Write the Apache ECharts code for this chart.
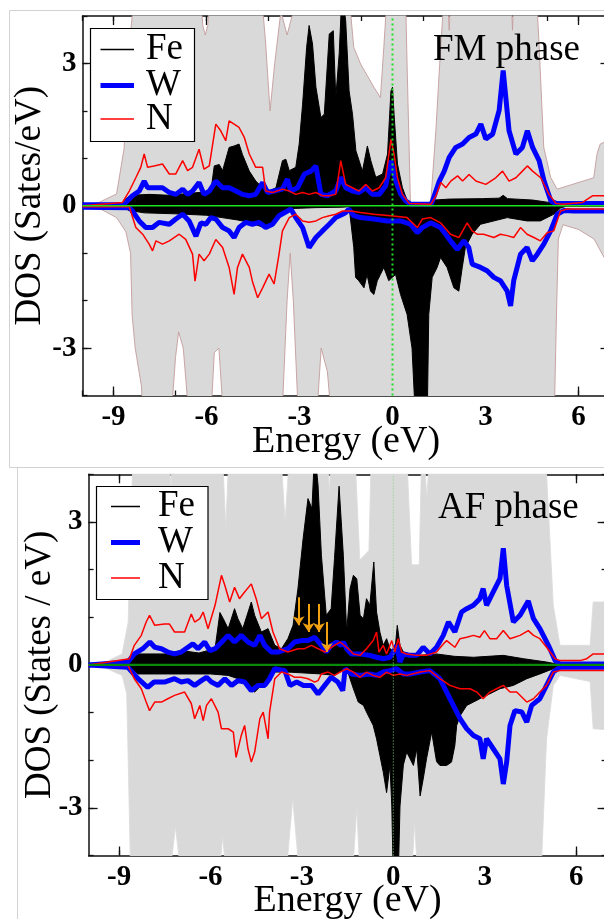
<!DOCTYPE html>
<html>
<head>
<meta charset="utf-8">
<script src="https://cdn.jsdelivr.net/npm/echarts@6/dist/echarts.min.js"></script>
<style>
  html, body { margin: 0; padding: 0; background: #fff; }
  #chart { width: 604px; height: 919px; }
</style>
</head>
<body>
<div id="chart"></div>
<script>
// Spin-resolved partial DOS of Fe, W and N in the FM and AF phases.
const SERIF = '"Liberation Serif", "Times New Roman", serif';

const energyMin = -10, energyMax = 7;
const dosMin = -4, dosMax = 4;
const xTickLabels = [-9, -6, -3, 0, 3, 6];
const fmMinorTicks = [-10, -9, -8, -7, -6, -5, -4, -3, -2, -1, 0, 1, 2, 3, 4, 5, 6, 7];
const afMinorTicks = [-9, -7.5, -6, -4.5, -3, -1.5, 0, 1.5, 3, 4.5, 6];
const yTickLabels = [-3, 0, 3];
const yMinorTicks = [-4, -3, -2, -1, 0, 1, 2, 3, 4];

// ---------- FM phase ----------
const fmTotUp = [[-10,0.01],[-9.5,0.06],[-8.9,0.25],[-8.66,1.2],[-8.5,3.3],[-8.25,5],[-6.25,5],[-6.12,3.8],[-6.04,3.6],[-5.96,3.8],[-5.85,5],
  [-4.3,5],[-4.1,3.5],[-3.95,2.0],[-3.8,3.0],[-3.6,4.1],[-3.4,3.6],[-3.2,4.1],[-3.0,5],[-1.55,5],[-1.41,4.5],[-1.25,3.34],[-1.03,2.99],
  [-0.6,2.5],[-0.39,2.28],[-0.28,3.34],[-0.17,4.5],[-0.1,5],[0.4,5],[0.47,3.0],[0.58,0.03],[1.23,0.03],[1.4,1.6],[1.55,3.3],[1.72,5],
  [1.76,5],[1.83,3.7],[1.92,5],[3.8,5],[3.87,3.7],[3.95,5],[4.6,5],[4.72,3.5],[4.88,1.23],[5.1,0.6],[5.31,0.35],[6.49,0.59],[6.6,1.1],[6.7,1.3],[7,1.4]];
const fmTotDn = [[-10,-0.01],[-9.5,-0.04],[-8.9,-0.25],[-8.6,-0.55],[-8.45,-1.0],[-8.4,-2.3],[-8.3,-3.0],[-8.1,-3.8],[-8.0,-5],[-7.2,-5],[-7.0,-3.2],
  [-6.9,-2.66],[-6.75,-3.0],[-6.5,-5],[-5.9,-5],[-5.75,-3.1],[-5.6,-3.0],[-5.4,-5],[-3.6,-5],[-3.4,-2.0],[-3.3,-1.0],[-3.2,-2.0],[-3.0,-5],
  [-2.5,-5],[-2.3,-3.0],[-2.1,-3.5],[-1.9,-5],[5.2,-5],[5.3,-2],[5.35,-0.7],[5.5,-0.4],[6.0,-0.5],[6.5,-0.7],[7,-1.3]];
const fmFeUp = [[-10,0],[-8.71,0.02],[-8.6,0.15],[-8.44,0.22],[-7.85,0.24],[-7.2,0.22],[-6.77,0.25],[-6.24,0.28],[-5.86,0.3],[-5.75,0.84],
  [-5.59,0.87],[-5.48,0.74],[-5.27,1.23],[-5.11,1.26],[-4.95,1.3],[-4.84,1.08],[-4.62,0.73],[-4.41,0.52],[-4.19,0.38],[-3.98,0.31],[-3.76,0.38],
  [-3.55,0.95],[-3.44,0.98],[-3.33,0.74],[-3.12,0.81],[-3.01,1.3],[-2.9,2.14],[-2.77,3.34],[-2.69,3.8],[-2.58,3.41],[-2.47,2.5],[-2.31,1.86],
  [-2.2,1.93],[-2.04,3.62],[-1.91,3.69],[-1.83,2.28],[-1.72,3.2],[-1.63,4.5],[-1.51,3.9],[-1.4,2.42],[-1.29,1.93],[-1.18,1.16],[-0.97,0.73],
  [-0.81,1.26],[-0.7,0.95],[-0.54,0.6],[-0.32,0.67],[-0.16,1.09],[-0.05,2.42],[0,2.5],[0.05,1.93],[0.16,0.88],[0.32,0.38],[0.48,0.1],[0.59,0],
  [1.24,0],[1.34,0.12],[1.83,0.14],[2.9,0.15],[3.44,0.16],[3.57,0.22],[3.71,0.15],[4.52,0.12],[5.05,0.07],[5.32,0.02],[7,0.02]];
const fmFeDn = [[-10,0],[-8.7,-0.03],[-8.5,-0.1],[-8.0,-0.15],[-7.0,-0.17],[-6.0,-0.2],[-5.5,-0.25],[-5.0,-0.3],[-4.6,-0.35],[-4.2,-0.45],
  [-3.9,-0.35],[-3.6,-0.15],[-3.3,-0.06],[-2.5,-0.04],[-1.6,-0.03],[-1.4,-0.02],[-1.35,0],[-1.25,-0.88],[-1.19,-1.51],[-1.09,-1.58],[-0.92,-1.73],
  [-0.82,-1.45],[-0.71,-1.8],[-0.6,-1.87],[-0.49,-1.58],[-0.39,-1.45],[-0.28,-1.3],[-0.12,-1.58],[-0.01,-1.51],[0.1,-1.45],[0.26,-1.87],
  [0.47,-2.29],[0.63,-3.0],[0.74,-4.5],[1.12,-4.5],[1.17,-2.29],[1.28,-1.51],[1.44,-1.3],[1.55,-1.09],[1.76,-1.3],[1.98,-1.73],[2.14,-1.8],
  [2.25,-1.3],[2.35,-0.88],[2.57,-0.6],[2.84,-0.39],[3.7,-0.25],[4.34,-0.32],[4.77,-0.32],[5.2,-0.18],[5.42,-0.05],[5.6,-0.01],[7,-0.01]];
const fmWUp = [[-10,0.02],[-8.9,0.02],[-8.66,0.03],[-8.39,0.21],[-8.17,0.31],[-8.01,0.52],[-7.9,0.38],[-7.74,0.38],[-7.42,0.38],[-7.2,0.28],
  [-6.99,0.24],[-6.77,0.35],[-6.61,0.24],[-6.45,0.31],[-6.24,0.49],[-6.08,0.24],[-5.91,0.31],[-5.7,0.52],[-5.48,0.38],[-5.27,0.38],[-5.05,0.31],
  [-4.84,0.24],[-4.62,0.21],[-4.41,0.24],[-4.19,0.49],[-4.03,0.28],[-3.82,0.31],[-3.55,0.35],[-3.39,0.56],[-3.28,0.31],[-3.06,0.38],[-2.84,0.67],
  [-2.63,0.73],[-2.47,0.84],[-2.31,0.24],[-2.1,0.21],[-1.83,0.31],[-1.67,0.6],[-1.51,0.38],[-1.29,0.31],[-1.08,0.28],[-0.86,0.38],[-0.65,0.24],
  [-0.43,0.24],[-0.22,0.42],[-0.05,0.95],[0,0.98],[0.11,0.52],[0.27,0.24],[0.43,0.1],[0.59,0.03],[1.24,0.03],[1.29,0.1],[1.51,0.52],[1.67,0.73],
  [1.83,1.02],[2.04,1.23],[2.26,1.3],[2.47,1.44],[2.69,1.51],[2.85,1.72],[3.01,1.41],[3.23,1.51],[3.44,2.01],[3.57,2.85],[3.66,2.25],[3.76,1.58],
  [3.98,1.09],[4.19,1.23],[4.35,1.58],[4.52,1.23],[4.73,0.95],[4.89,0.52],[5.11,0.1],[5.27,0.05],[7,0.05]];
const fmWDn = [[-10,-0.03],[-8.49,-0.04],[-8.39,-0.11],[-8.17,-0.32],[-7.96,-0.46],[-7.74,-0.46],[-7.53,-0.35],[-7.2,-0.39],[-6.99,-0.28],
  [-6.77,-0.18],[-6.56,-0.32],[-6.34,-0.64],[-6.18,-0.36],[-6.02,-0.39],[-5.86,-0.25],[-5.7,-0.28],[-5.48,-0.46],[-5.27,-0.53],[-5.11,-0.67],
  [-4.95,-0.46],[-4.73,-0.35],[-4.52,-0.39],[-4.3,-0.35],[-4.09,-0.46],[-3.87,-0.39],[-3.66,-0.21],[-3.39,-0.11],[-3.28,-0.07],[-3.12,-0.25],
  [-2.9,-0.46],[-2.69,-0.88],[-2.47,-0.67],[-2.26,-0.53],[-2.04,-0.39],[-1.83,-0.25],[-1.61,-0.18],[-1.52,-0.15],[-1.41,-0.07],[-1.25,-0.21],
  [-1.03,-0.25],[-0.6,-0.28],[-0.17,-0.32],[0.26,-0.32],[0.58,-0.39],[0.8,-0.57],[0.96,-0.46],[1.23,-0.36],[1.55,-0.46],[1.87,-0.74],[2.09,-0.92],
  [2.3,-0.74],[2.46,-0.88],[2.57,-1.23],[2.84,-1.3],[3.05,-1.37],[3.27,-1.51],[3.48,-1.58],[3.7,-1.8],[3.81,-2.11],[3.91,-1.58],[4.13,-1.02],
  [4.34,-0.88],[4.51,-1.16],[4.67,-1.02],[4.88,-0.81],[5.1,-0.53],[5.31,-0.18],[5.53,-0.1],[5.85,-0.11],[7,-0.11]];
const fmNUp = [[-10,0],[-8.71,0.07],[-8.49,0.31],[-8.28,0.59],[-8.12,0.81],[-8.01,1.09],[-7.9,0.81],[-7.69,0.84],[-7.42,0.88],[-7.2,0.67],
  [-6.99,0.67],[-6.77,0.95],[-6.61,0.74],[-6.45,0.81],[-6.24,1.19],[-6.08,0.77],[-5.91,0.84],[-5.7,1.72],[-5.54,1.58],[-5.38,1.37],[-5.27,1.79],
  [-5.11,1.72],[-4.95,1.65],[-4.78,1.44],[-4.62,1.09],[-4.41,0.81],[-4.19,0.81],[-4.09,0.31],[-3.87,0.28],[-3.55,0.35],[-3.33,0.31],[-3.12,0.24],
  [-2.9,0.28],[-2.69,0.24],[-2.47,0.28],[-2.26,0.21],[-2.04,0.21],[-1.83,0.24],[-1.67,0.95],[-1.51,0.45],[-1.29,0.38],[-1.08,0.31],[-0.86,0.45],
  [-0.65,0.31],[-0.43,0.38],[-0.22,0.59],[-0.05,1.4],[0.05,1.09],[0.16,0.59],[0.32,0.24],[0.54,0.05],[0.59,0.03],[1.24,0.03],[1.4,0.21],
  [1.56,0.49],[1.72,0.38],[1.88,0.52],[2.1,0.63],[2.26,0.52],[2.47,0.66],[2.69,0.52],[3.01,0.45],[3.33,0.59],[3.55,0.73],[3.76,0.52],[3.98,0.59],
  [4.19,0.73],[4.35,0.84],[4.52,0.73],[4.78,0.59],[5.05,0.24],[5.27,0.05],[5.48,0.03],[6.13,0.07],[6.45,0.21],[7,0.21]];
const fmNDn = [[-10,-0.02],[-8.49,-0.02],[-8.28,-0.46],[-8.06,-0.6],[-7.85,-0.81],[-7.74,-0.95],[-7.63,-0.74],[-7.42,-0.81],[-7.2,-0.74],
  [-6.88,-0.6],[-6.67,-0.71],[-6.45,-1.02],[-6.37,-1.59],[-6.24,-1.02],[-6.08,-1.16],[-5.91,-1.02],[-5.7,-0.71],[-5.48,-0.88],[-5.27,-1.3],
  [-5.11,-1.87],[-5.0,-1.3],[-4.84,-1.02],[-4.62,-1.3],[-4.52,-1.59],[-4.35,-1.94],[-4.19,-1.73],[-3.98,-1.44],[-3.82,-1.65],[-3.66,-1.02],
  [-3.55,-0.53],[-3.33,-0.25],[-3.12,-0.18],[-2.9,-0.32],[-2.69,-0.35],[-2.47,-0.32],[-2.26,-0.25],[-2.04,-0.21],[-1.83,-0.18],[-1.61,-0.11],
  [-1.35,-0.11],[-1.03,-0.14],[-0.6,-0.18],[-0.06,-0.21],[0.47,-0.25],[0.8,-0.46],[0.96,-0.28],[1.23,-0.25],[1.55,-0.36],[1.87,-0.6],[2.14,-0.67],
  [2.41,-0.36],[2.57,-0.53],[2.73,-0.6],[2.94,-0.6],[3.27,-0.67],[3.48,-0.6],[3.7,-0.63],[3.91,-0.67],[4.13,-0.46],[4.34,-0.6],[4.56,-0.67],
  [4.77,-0.74],[4.99,-0.57],[5.2,-0.53],[5.42,-0.11],[5.63,-0.07],[7,-0.07]];

// ---------- AF phase ----------
const afTotUp = [[-10,0.01],[-9.45,0.06],[-8.9,0.23],[-8.7,0.9],[-8.6,3.3],[-8.5,5],[-7.4,5],[-7.3,3.7],[-7.2,5],[-5.65,5],[-5.5,2.9],[-5.35,5],
  [-3.75,5],[-3.55,3.0],[-3.35,5],[-2.2,5],[-2.1,3.6],[-2.0,5],[-1.3,5],[-1.1,2.2],[-0.8,2.4],[-0.7,5],[0.4,5],[0.6,2.1],[0.85,2.1],[0.95,5],
  [1.0,5],[1.1,3.5],[1.25,5],[4.9,5],[5.03,4.0],[5.25,1.25],[5.47,0.41],[6.46,0.41],[6.56,1.32],[7,1.32]];
const afTotDn = [[-10,-0.01],[-9.5,-0.05],[-8.9,-0.22],[-8.75,-0.6],[-8.7,-2],[-8.6,-5],[-7.45,-5],[-7.15,-3.4],[-6.85,-5],[-5.8,-5],[-5.6,-3.6],
  [-5.4,-5],[-3.6,-5],[-3.3,-2.8],[-3.0,-5],[-1.4,-5],[-1.2,-3.0],[-1.05,-5],[0.55,-5],[0.7,-3.3],[0.85,-5],[4.81,-5],[5.03,-1.55],[5.25,-0.43],
  [5.47,-0.22],[6.46,-0.35],[6.56,-1.34],[7,-1.36]];
const afFeUp = [[-10,0],[-8.71,0.02],[-8.38,0.23],[-7.5,0.23],[-6.96,0.3],[-6.38,0.25],[-5.85,0.34],[-5.69,1.1],[-5.58,0.97],[-5.42,0.76],
  [-5.21,1.18],[-5.1,0.97],[-4.94,0.76],[-4.66,1.32],[-4.55,1.04],[-4.33,0.69],[-4.11,0.76],[-3.89,0.41],[-3.67,0.34],[-3.46,0.55],[-3.29,0.83],
  [-3.13,1.6],[-2.96,2.65],[-2.8,3.49],[-2.67,3.28],[-2.58,4.5],[-2.47,3.77],[-2.36,2.3],[-2.2,1.04],[-2.04,1.18],[-1.93,2.23],[-1.78,3.75],
  [-1.64,2.3],[-1.53,0.69],[-1.42,1.6],[-1.31,1.88],[-1.2,1.81],[-1.09,1.04],[-0.98,0.97],[-0.88,1.39],[-0.77,1.25],[-0.64,2.16],[-0.55,1.11],
  [-0.44,0.69],[-0.33,0.41],[-0.22,0.55],[-0.11,0.34],[0.05,0.27],[0.13,0.83],[0.22,0.41],[0.33,0.27],[0.55,0.23],[0.88,0.2],[1.42,0.23],
  [2.0,0.18],[2.63,0.16],[3.61,0.2],[4.27,0.13],[5.03,0.06],[5.36,0.02],[7,0.01]];
const afFeDn = [[-10,0],[-8.71,-0.02],[-8.38,-0.19],[-6,-0.19],[-5.42,-0.22],[-5.1,-0.29],[-4.77,-0.43],[-4.55,-0.57],[-4.33,-0.43],[-4.06,-0.29],
  [-3.89,-0.15],[-3.46,-0.15],[-2.36,-0.19],[-1.93,-0.22],[-1.75,-0.15],[-1.53,-0.08],[-1.42,-0.29],[-1.31,-0.5],[-1.15,-0.78],[-0.98,-0.85],
  [-0.88,-0.99],[-0.77,-1.13],[-0.66,-1.27],[-0.55,-1.55],[-0.44,-1.9],[-0.33,-2.25],[-0.22,-2.68],[-0.11,-2.1],[-0.05,-2.96],[0,-4.5],[0.16,-4.5],
  [0.22,-2.96],[0.33,-2.1],[0.44,-1.83],[0.55,-1.97],[0.66,-2.11],[0.77,-1.76],[0.88,-2.75],[0.98,-2.4],[1.09,-1.97],[1.26,-1.41],[1.42,-2.03],
  [1.53,-2.11],[1.75,-2.11],[1.91,-2.04],[2.02,-1.69],[2.08,-1.27],[2.19,-1.07],[2.41,-0.85],[2.63,-0.78],[2.84,-0.71],[3.06,-0.64],[3.5,-0.5],
  [3.94,-0.43],[4.38,-0.29],[4.81,-0.19],[5.25,-0.08],[5.5,-0.02],[7,-0.01]];
const afWUp = [[-10,0],[-8.71,0.06],[-8.5,0.23],[-8.22,0.34],[-7.99,0.48],[-7.83,0.37],[-7.61,0.34],[-7.4,0.27],[-7.18,0.23],[-6.96,0.27],
  [-6.74,0.37],[-6.58,0.44],[-6.41,0.34],[-6.19,0.48],[-6.02,0.3],[-5.85,0.34],[-5.63,0.48],[-5.42,0.62],[-5.21,0.48],[-4.99,0.62],[-4.77,0.48],
  [-4.55,0.41],[-4.38,0.62],[-4.22,0.41],[-4.0,0.27],[-3.78,0.27],[-3.46,0.34],[-3.24,0.48],[-3.02,0.51],[-2.8,0.51],[-2.58,0.58],[-2.36,0.41],
  [-2.2,0.27],[-2.04,0.41],[-1.86,0.48],[-1.71,0.41],[-1.64,0.48],[-1.53,0.34],[-1.37,0.23],[-1.09,0.23],[-0.77,0.2],[-0.55,0.16],[-0.33,0.13],
  [-0.11,0.16],[0,0.27],[0.11,0.41],[0.22,0.06],[0.33,0.23],[0.55,0.2],[0.77,0.2],[0.98,0.37],[1.2,0.23],[1.42,0.37],[1.64,0.62],[1.81,0.9],
  [2.02,0.69],[2.24,1.11],[2.41,1.18],[2.63,1.25],[2.84,1.39],[2.95,1.6],[3.06,1.25],[3.28,1.53],[3.5,1.81],[3.61,2.45],[3.72,1.67],[3.94,0.9],
  [4.16,1.04],[4.43,1.34],[4.6,0.97],[4.81,0.76],[5.09,0.41],[5.31,0.09],[5.47,0.02],[7,0.02]];
const afWDn = [[-10,0],[-8.71,-0.05],[-8.38,-0.29],[-8.06,-0.47],[-7.85,-0.36],[-7.51,-0.36],[-7.18,-0.29],[-6.96,-0.36],[-6.74,-0.33],
  [-6.52,-0.43],[-6.3,-0.33],[-6.13,-0.26],[-5.97,-0.36],[-5.75,-0.43],[-5.53,-0.29],[-5.31,-0.43],[-5.1,-0.33],[-4.88,-0.36],[-4.66,-0.54],
  [-4.44,-0.43],[-4.22,-0.43],[-4.06,-0.29],[-3.89,-0.08],[-3.56,-0.12],[-3.39,-0.43],[-3.17,-0.36],[-2.95,-0.43],[-2.68,-0.43],[-2.47,-0.61],
  [-2.25,-0.43],[-2.04,-0.26],[-1.82,-0.36],[-1.66,-0.54],[-1.58,-0.08],[-1.37,-0.19],[-1.09,-0.22],[-0.77,-0.19],[-0.55,-0.22],[-0.33,-0.15],
  [-0.11,-0.12],[0.11,-0.08],[0.33,-0.19],[0.55,-0.19],[0.88,-0.15],[1.2,-0.12],[1.53,-0.29],[1.75,-0.57],[1.97,-0.85],[2.19,-1.13],[2.41,-1.34],
  [2.63,-1.48],[2.84,-1.55],[2.95,-1.97],[3.06,-1.55],[3.28,-1.76],[3.5,-1.97],[3.61,-2.5],[3.72,-2.04],[3.83,-1.27],[3.99,-0.96],[4.22,-0.99],
  [4.38,-1.2],[4.54,-0.85],[4.81,-0.71],[5.03,-0.43],[5.25,-0.15],[5.47,-0.05],[7,-0.05]];
const afNUp = [[-10,0],[-8.66,0.13],[-8.5,0.41],[-8.27,0.62],[-8.11,0.9],[-8.0,1.04],[-7.83,0.83],[-7.51,0.86],[-7.35,0.86],[-7.18,0.69],
  [-6.85,0.69],[-6.63,1.07],[-6.52,0.9],[-6.35,0.97],[-6.24,1.11],[-6.08,0.76],[-5.85,1.25],[-5.64,1.88],[-5.53,1.67],[-5.37,1.32],[-5.21,1.63],
  [-5.05,1.39],[-4.88,1.53],[-4.66,1.7],[-4.5,1.39],[-4.33,0.97],[-4.11,1.11],[-3.95,0.69],[-3.73,0.34],[-3.46,0.27],[-3.13,0.34],[-2.91,0.34],
  [-2.69,0.41],[-2.47,0.34],[-2.25,0.27],[-2.09,0.34],[-1.93,0.41],[-1.75,0.48],[-1.53,0.37],[-1.31,0.23],[-1.09,0.2],[-0.88,0.34],[-0.66,0.51],
  [-0.55,0.69],[-0.47,0.27],[-0.33,0.41],[-0.22,0.23],[-0.05,0.51],[0.05,0.27],[0.16,0.55],[0.27,0.27],[0.44,0.23],[0.77,0.2],[1.09,0.2],
  [1.42,0.27],[1.64,0.44],[1.75,0.51],[2.02,0.37],[2.19,0.55],[2.41,0.58],[2.63,0.62],[2.84,0.58],[2.99,0.72],[3.17,0.55],[3.39,0.55],[3.61,0.72],
  [3.83,0.55],[4.16,0.62],[4.43,0.72],[4.6,0.62],[4.81,0.55],[5.03,0.37],[5.31,0.13],[5.47,0.09],[6.13,0.09],[6.35,0.13],[6.56,0.23],[7,0.23]];
const afNDn = [[-10,0],[-8.71,-0.01],[-8.5,-0.29],[-8.27,-0.5],[-8.11,-0.78],[-8.0,-0.96],[-7.83,-0.78],[-7.61,-0.78],[-7.4,-0.71],[-7.18,-0.64],
  [-6.85,-0.57],[-6.63,-0.81],[-6.52,-1.13],[-6.35,-0.85],[-6.24,-1.17],[-6.13,-0.85],[-5.97,-0.71],[-5.75,-0.99],[-5.64,-1.34],[-5.42,-1.34],
  [-5.25,-1.41],[-5.16,-1.94],[-4.99,-1.48],[-4.88,-1.27],[-4.77,-1.76],[-4.66,-2.04],[-4.55,-1.83],[-4.38,-1.13],[-4.27,-0.99],[-4.11,-1.55],
  [-4.06,-0.99],[-3.89,-0.29],[-3.67,-0.15],[-3.46,-0.19],[-3.24,-0.26],[-3.02,-0.26],[-2.8,-0.29],[-2.58,-0.36],[-2.47,-0.33],[-2.36,-0.19],
  [-2.14,-0.15],[-1.93,-0.22],[-1.75,-0.15],[-1.53,-0.08],[-1.31,-0.15],[-1.09,-0.26],[-0.88,-0.15],[-0.66,-0.22],[-0.44,-0.26],[-0.22,-0.15],
  [0,-0.22],[0.22,-0.19],[0.44,-0.22],[0.88,-0.15],[1.2,-0.12],[1.53,-0.29],[1.86,-0.43],[2.19,-0.5],[2.52,-0.5],[2.74,-0.57],[2.95,-0.71],
  [3.17,-0.57],[3.39,-0.5],[3.61,-0.43],[3.83,-0.57],[4.05,-0.57],[4.38,-0.78],[4.6,-0.71],[4.81,-0.57],[5.03,-0.43],[5.25,-0.15],[5.47,-0.12],[7,-0.12]];

// Arrows marking the hybridised Fe-W-N states in the AF phase
const arrowX = [-3.11, -2.78, -2.44, -2.18];
const arrowTop = [1.42, 1.28, 1.28, 0.9];
const arrowTip = [0.83, 0.69, 0.69, 0.27];

const panels = [
  { grid: { left: 82.5, top: 16, width: 527, height: 379.5 }, minor: fmMinorTicks, yName: 'DOS (Sates/eV)', yNameGap: 34, xNameGap: 28,
    tot: [fmTotUp, fmTotDn], fe: [fmFeUp, fmFeDn], w: [fmWUp, fmWDn], n: [fmNUp, fmNDn],
    totEdge: '#c49c9c', zero: { color: '#1fe01f', width: 1.6 }, fermi: { color: '#22e022', width: 2 } },
  { grid: { left: 88.6, top: 474.3, width: 518, height: 381.2 }, minor: afMinorTicks, yName: 'DOS (States / eV)', yNameGap: 30, xNameGap: 27,
    tot: [afTotUp, afTotDn], fe: [afFeUp, afFeDn], w: [afWUp, afWDn], n: [afNUp, afNDn],
    totEdge: '#dcdcdc', zero: { color: '#0a8a0a', width: 2.4 }, fermi: { color: '#7ad67a', width: 1 } }
];

const axisColor = '#111';
const tickStyle = { color: axisColor, width: 1.3 };

function xAxesFor(gi, p) {
  const base = { type: 'value', gridIndex: gi, min: energyMin, max: energyMax, splitLine: { show: false } };
  const line = { show: true, onZero: false, lineStyle: { color: axisColor, width: 1.5 } };
  const noLine = { show: false, onZero: false };
  return [
    Object.assign({}, base, { position: 'bottom', axisLine: line,
      axisTick: { show: true, inside: true, length: 9, customValues: xTickLabels, lineStyle: tickStyle },
      axisLabel: { show: true, customValues: xTickLabels, margin: 8, fontFamily: SERIF, fontSize: 29, fontWeight: 'bold', color: '#000' },
      name: 'Energy (eV)', nameLocation: 'middle', nameGap: p.xNameGap, nameMoveOverlap: false,
      nameTextStyle: { fontFamily: SERIF, fontSize: 38, color: '#000' } }),
    Object.assign({}, base, { position: 'bottom', axisLine: noLine,
      axisTick: { show: true, inside: true, length: 5, customValues: p.minor, lineStyle: tickStyle }, axisLabel: { show: false } }),
    Object.assign({}, base, { position: 'top', axisLine: line,
      axisTick: { show: true, inside: true, length: 9, customValues: xTickLabels, lineStyle: tickStyle }, axisLabel: { show: false } }),
    Object.assign({}, base, { position: 'top', axisLine: noLine,
      axisTick: { show: true, inside: true, length: 5, customValues: p.minor, lineStyle: tickStyle }, axisLabel: { show: false } })
  ];
}

function yAxesFor(gi, p) {
  const base = { type: 'value', gridIndex: gi, min: dosMin, max: dosMax, splitLine: { show: false } };
  const line = { show: true, onZero: false, lineStyle: { color: axisColor, width: 1.5 } };
  const noLine = { show: false, onZero: false };
  return [
    Object.assign({}, base, { position: 'left', axisLine: line,
      axisTick: { show: true, inside: true, length: 9, customValues: yTickLabels, lineStyle: tickStyle },
      axisLabel: { show: true, customValues: yTickLabels, margin: 6, fontFamily: SERIF, fontSize: 29, fontWeight: 'bold', color: '#000' },
      name: p.yName, nameLocation: 'middle', nameGap: p.yNameGap, nameMoveOverlap: false,
      nameTextStyle: { fontFamily: SERIF, fontSize: 37, color: '#000' } }),
    Object.assign({}, base, { position: 'left', axisLine: noLine,
      axisTick: { show: true, inside: true, length: 5, customValues: yMinorTicks, lineStyle: tickStyle }, axisLabel: { show: false } }),
    Object.assign({}, base, { position: 'right', axisLine: line,
      axisTick: { show: true, inside: true, length: 9, customValues: yTickLabels, lineStyle: tickStyle }, axisLabel: { show: false } }),
    Object.assign({}, base, { position: 'right', axisLine: noLine,
      axisTick: { show: true, inside: true, length: 5, customValues: yMinorTicks, lineStyle: tickStyle }, axisLabel: { show: false } })
  ];
}

function curve(gi, name, data, color, width, fill) {
  const s = {
    type: 'line', name: name, data: data, xAxisIndex: gi * 4, yAxisIndex: gi * 4,
    showSymbol: false, symbol: 'none', smooth: false, clip: true, silent: true, animation: false,
    lineStyle: { color: color, width: width }
  };
  if (fill) s.areaStyle = { color: fill, opacity: 1, origin: 0 };
  return s;
}

const grids = [], xAxes = [], yAxes = [], series = [];
panels.forEach(function (p, gi) {
  grids.push(Object.assign({ show: false, outerBoundsMode: 'none', containLabel: false }, p.grid));
  xAxes.push.apply(xAxes, xAxesFor(gi, p));
  yAxes.push.apply(yAxes, yAxesFor(gi, p));
  series.push(curve(gi, 'total', p.tot[0], p.totEdge, 0.9, '#d9d9d9'));
  series.push(curve(gi, 'total', p.tot[1], p.totEdge, 0.9, '#d9d9d9'));
  series.push(curve(gi, 'Fe', p.fe[0], '#000', 1, '#000'));
  series.push(curve(gi, 'Fe', p.fe[1], '#000', 1, '#000'));
  series.push(curve(gi, 'W', p.w[0], '#0000ff', 5));
  series.push(curve(gi, 'W', p.w[1], '#0000ff', 5));
  series.push(curve(gi, 'N', p.n[0], '#ff0000', 1.5));
  series.push(curve(gi, 'N', p.n[1], '#ff0000', 1.5));
  series.push(curve(gi, 'zero', [[energyMin, 0], [energyMax, 0]], p.zero.color, p.zero.width));
  const fermi = curve(gi, 'Ef', [[0, dosMin], [0, dosMax]], p.fermi.color, p.fermi.width);
  fermi.lineStyle.type = gi === 0 ? [2, 3] : [1, 2];
  series.push(fermi);
});

// orange arrows drawn in AF-panel data coordinates
series.push({
  type: 'line', data: [], xAxisIndex: 4, yAxisIndex: 4, silent: true, animation: false,
  markLine: {
    silent: true, animation: false, symbol: ['none', 'arrow'], symbolSize: 9,
    label: { show: false },
    lineStyle: { color: '#f0a010', width: 2, type: 'solid' },
    data: arrowX.map(function (x, i) { return [{ coord: [x, arrowTop[i]] }, { coord: [x, arrowTip[i]] }]; })
  }
});

// legend boxes, phase labels and panel frames
function legendGroup(left, top, w, h, rows, textX, lineX0, lineX1) {
  const items = [{ type: 'rect', shape: { x: left, y: top, width: w, height: h }, style: { fill: '#fff', stroke: '#000', lineWidth: 1.2 }, z: 100 }];
  rows.forEach(function (r) {
    items.push({ type: 'line', shape: { x1: lineX0, y1: r.y, x2: lineX1, y2: r.y }, style: { stroke: r.color, lineWidth: r.width }, z: 101 });
    items.push({ type: 'text', x: textX, y: r.y, style: { text: r.label, fill: '#000', font: '37px ' + SERIF, verticalAlign: 'middle', align: 'left' }, z: 101 });
  });
  return items;
}

const graphics = [
  { type: 'rect', shape: { x: 9.5, y: 10.5, width: 700, height: 457 }, style: { fill: 'none', stroke: '#d2d2d2', lineWidth: 1 }, z: 0 },
  { type: 'rect', shape: { x: 17.5, y: 467.5, width: 700, height: 500 }, style: { fill: 'none', stroke: '#d2d2d2', lineWidth: 1 }, z: 0 },
  { type: 'text', x: 433, y: 50, style: { text: 'FM phase', fill: '#000', font: '37px ' + SERIF, verticalAlign: 'middle' }, z: 100 },
  { type: 'text', x: 438, y: 508, style: { text: 'AF phase', fill: '#000', font: '37px ' + SERIF, verticalAlign: 'middle' }, z: 100 }
].concat(
  legendGroup(90.5, 28.5, 104, 113, [
    { label: 'Fe', color: '#000', width: 1.5, y: 49.5 },
    { label: 'W', color: '#0000ff', width: 5, y: 85.5 },
    { label: 'N', color: '#ff0000', width: 1.5, y: 119 }
  ], 146, 100.5, 134),
  legendGroup(96.5, 486.5, 111.5, 113, [
    { label: 'Fe', color: '#000', width: 1.5, y: 506.5 },
    { label: 'W', color: '#0000ff', width: 5, y: 542.5 },
    { label: 'N', color: '#ff0000', width: 1.5, y: 578 }
  ], 158, 111, 140)
);

const chart = echarts.init(document.getElementById('chart'), null, { renderer: 'canvas' });
chart.setOption({
  backgroundColor: '#fff',
  animation: false,
  grid: grids,
  xAxis: xAxes,
  yAxis: yAxes,
  series: series,
  graphic: graphics
});
</script>
</body>
</html>
